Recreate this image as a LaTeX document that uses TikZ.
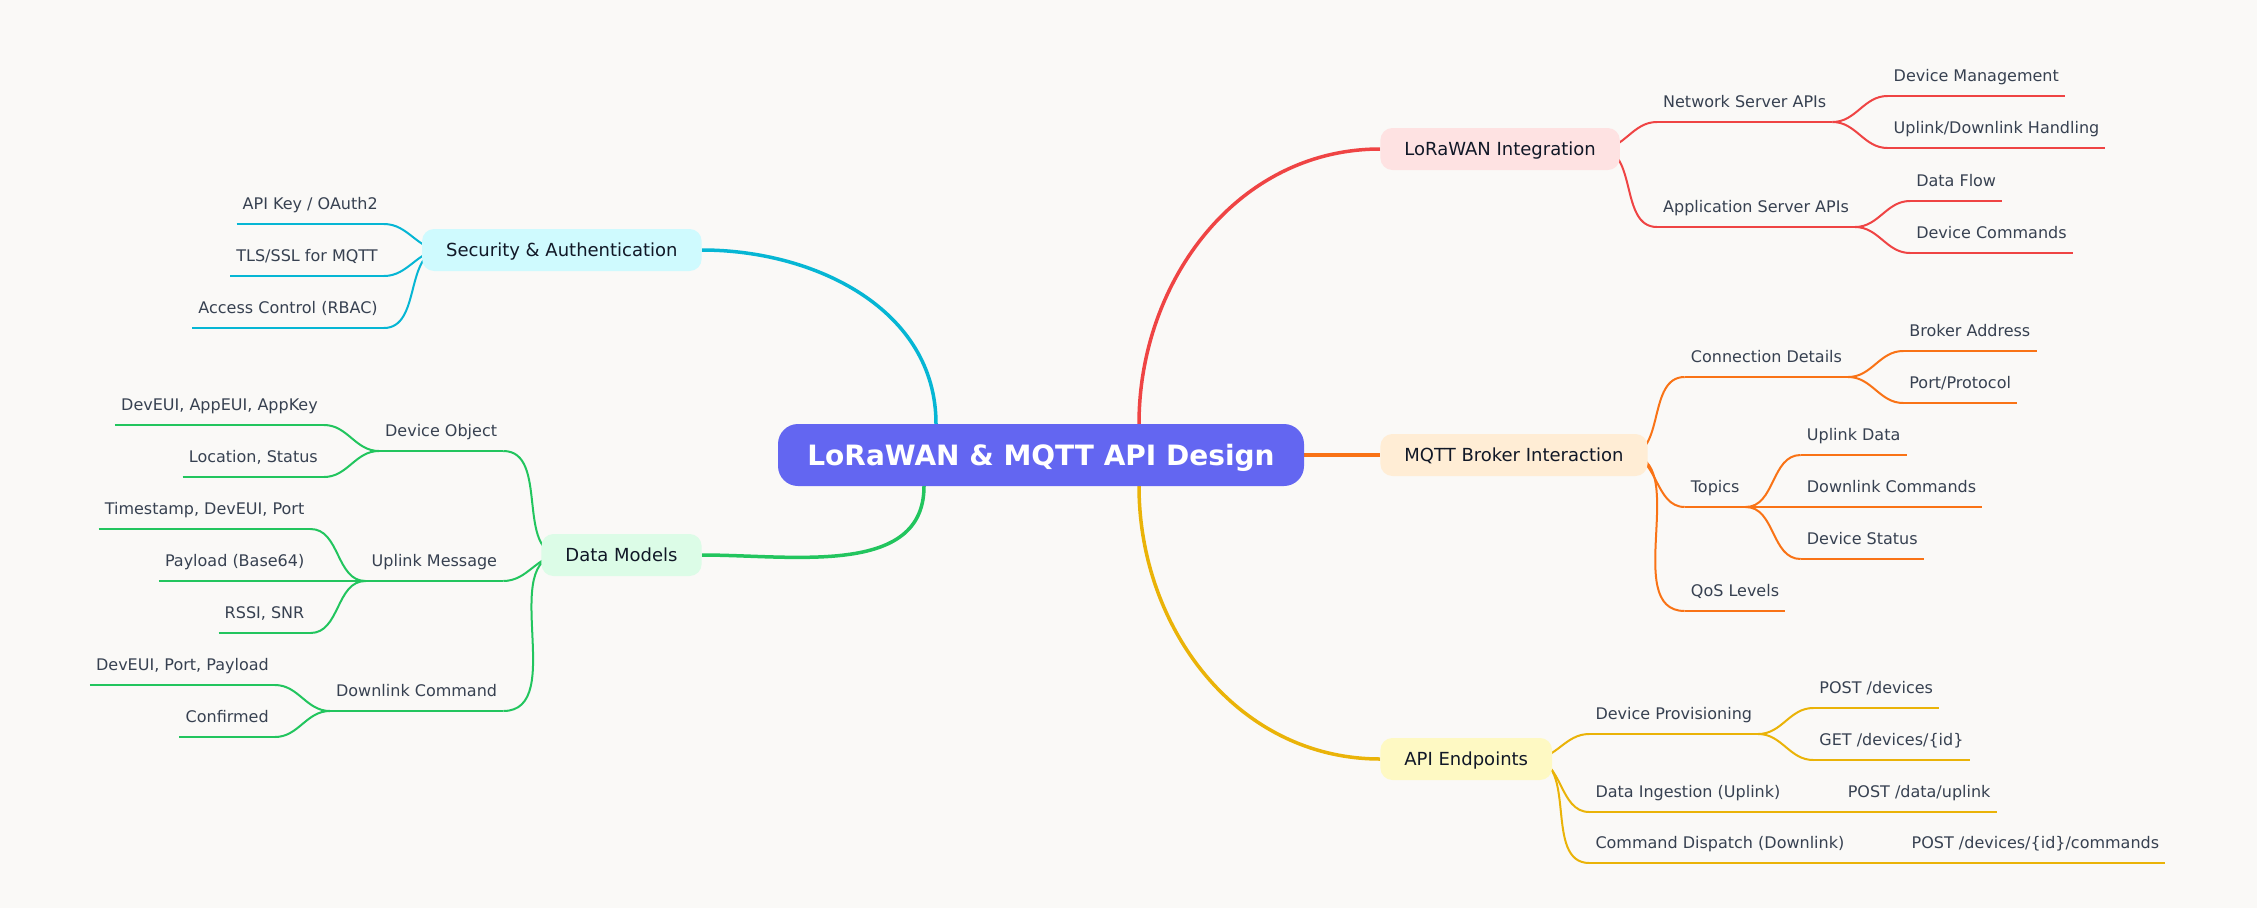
\documentclass[tikz,border=0pt]{standalone}
\usepackage{fontspec}
\setmainfont{DejaVu Sans}
\usetikzlibrary{positioning, backgrounds}
\definecolor{mapbackground}{HTML}{FAF9F7}
\definecolor{rootfill}{HTML}{6366F1}
\definecolor{loraline}{HTML}{EF4444}
\definecolor{lorafill}{HTML}{FEE2E2}
\definecolor{mqttline}{HTML}{F97316}
\definecolor{mqttfill}{HTML}{FFEDD5}
\definecolor{apiline}{HTML}{EAB308}
\definecolor{apifill}{HTML}{FEF9C3}
\definecolor{secline}{HTML}{06B6D4}
\definecolor{secfill}{HTML}{CFFAFE}
\definecolor{dataline}{HTML}{22C55E}
\definecolor{datafill}{HTML}{DCFCE7}
\definecolor{branchtext}{HTML}{111827}
\definecolor{topictext}{HTML}{374151}

\begin{document}
\begin{tikzpicture}[
    x=1pt, y=1pt,
    rootnode/.style={
        fill=rootfill,
        rounded corners=20pt,
        minimum width=526pt,
        minimum height=62pt,
        text height=20pt,
        text depth=0pt,
        text=white,
        font=\fontsize{28}{34}\selectfont\bfseries
    },
    branchnode/.style={
        rounded corners=12pt,
        minimum height=42pt,
        inner xsep=24pt,
        text height=13pt,
        text depth=0pt,
        text=branchtext,
        font=\fontsize{18}{22}\selectfont
    },
    topic/.style={
        inner xsep=6pt,
        inner ysep=0pt,
        text height=12pt,
        text depth=14.5pt,
        text=topictext,
        font=\fontsize{16}{19}\selectfont
    },
    mainlink/.style={line width=3.5pt},
    sublink/.style={line width=2pt},
    rightlink/.style={sublink, out=0, in=180},
    leftlink/.style={sublink, out=180, in=0}
]
    \useasboundingbox (0,0) rectangle (2257,-908);

    \node[rootnode] (root) at (1041,-455) {LoRaWAN \& MQTT API Design};

    \node[branchnode, fill=lorafill, right=76pt of root, yshift=306pt] (lora) {LoRaWAN Integration};
    \node[branchnode, fill=mqttfill, right=76pt of root] (mqtt) {MQTT Broker Interaction};
    \node[branchnode, fill=apifill, right=76pt of root, yshift=-304pt] (api) {API Endpoints};
    \node[branchnode, fill=secfill, left=76pt of root, yshift=205pt] (sec) {Security \& Authentication};
    \node[branchnode, fill=datafill, left=76pt of root, yshift=-100pt] (data) {Data Models};

    % LoRaWAN
    \node[topic, right=37pt of lora.east, anchor=south west, yshift=27pt] (netapi) {Network Server APIs};
    \node[topic, right=37pt of lora.east, anchor=south west, yshift=-78pt] (appapi) {Application Server APIs};
    \node[topic, right=55pt of netapi.south east, anchor=south west, yshift=26pt] (devmgmt) {Device Management};
    \node[topic, right=55pt of netapi.south east, anchor=south west, yshift=-26pt] (updown) {Uplink/Downlink Handling};
    \node[topic, right=55pt of appapi.south east, anchor=south west, yshift=26pt] (dataflow) {Data Flow};
    \node[topic, right=55pt of appapi.south east, anchor=south west, yshift=-26pt] (devcmd) {Device Commands};

    % MQTT
    \node[topic, right=37pt of mqtt.east, anchor=south west, yshift=78pt] (conn) {Connection Details};
    \node[topic, right=37pt of mqtt.east, anchor=south west, yshift=-52pt] (topics) {Topics};
    \node[topic, right=37pt of mqtt.east, anchor=south west, yshift=-156pt] (qos) {QoS Levels};
    \node[topic, right=55pt of conn.south east, anchor=south west, yshift=26pt] (broker) {Broker Address};
    \node[topic, right=55pt of conn.south east, anchor=south west, yshift=-26pt] (portproto) {Port/Protocol};
    \node[topic, right=55pt of topics.south east, anchor=south west, yshift=52pt] (upldata) {Uplink Data};
    \node[topic, right=55pt of topics.south east, anchor=south west] (dnlcmd) {Downlink Commands};
    \node[topic, right=55pt of topics.south east, anchor=south west, yshift=-52pt] (devstatus) {Device Status};

    % API
    \node[topic, right=37pt of api.east, anchor=south west, yshift=25pt] (provis) {Device Provisioning};
    \node[topic, right=37pt of api.east, anchor=south west, yshift=-53pt] (ingest) {Data Ingestion (Uplink)};
    \node[topic, right=37pt of api.east, anchor=south west, yshift=-104pt] (dispatch) {Command Dispatch (Downlink)};
    \node[topic, right=55pt of provis.south east, anchor=south west, yshift=26pt] (postdev) {POST /devices};
    \node[topic, right=55pt of provis.south east, anchor=south west, yshift=-26pt] (getdev) {GET /devices/\{id\}};
    \node[topic, right=55pt of ingest.south east, anchor=south west] (postuplink) {POST /data/uplink};
    \node[topic, right=55pt of dispatch.south east, anchor=south west] (postcmd) {POST /devices/\{id\}/commands};

    % Security
    \node[topic, left=38pt of sec.west, anchor=south east, yshift=26pt] (apikey) {API Key / OAuth2};
    \node[topic, left=38pt of sec.west, anchor=south east, yshift=-26pt] (tls) {TLS/SSL for MQTT};
    \node[topic, left=38pt of sec.west, anchor=south east, yshift=-78pt] (rbac) {Access Control (RBAC)};

    % Data models
    \node[topic, left=38pt of data.west, anchor=south east, yshift=104pt] (devobj) {Device Object};
    \node[topic, left=38pt of data.west, anchor=south east, yshift=-26pt] (uplmsg) {Uplink Message};
    \node[topic, left=38pt of data.west, anchor=south east, yshift=-156pt] (dnlmsg) {Downlink Command};
    \node[topic, left=55pt of devobj.south west, anchor=south east, yshift=26pt] (devkeys) {DevEUI, AppEUI, AppKey};
    \node[topic, left=55pt of devobj.south west, anchor=south east, yshift=-26pt] (locstat) {Location, Status};
    \node[topic, left=55pt of uplmsg.south west, anchor=south east, yshift=52pt] (tsport) {Timestamp, DevEUI, Port};
    \node[topic, left=55pt of uplmsg.south west, anchor=south east] (payload) {Payload (Base64)};
    \node[topic, left=55pt of uplmsg.south west, anchor=south east, yshift=-52pt] (rssi) {RSSI, SNR};
    \node[topic, left=55pt of dnlmsg.south west, anchor=south east, yshift=26pt] (dnlfields) {DevEUI, Port, Payload};
    \node[topic, left=55pt of dnlmsg.south west, anchor=south east, yshift=-26pt] (confirmed) {Confirmed};

    % underlines
    \foreach \t in {netapi, appapi, devmgmt, updown, dataflow, devcmd}
        \draw[sublink, loraline] (\t.south west) -- (\t.south east);
    \foreach \t in {conn, topics, qos, broker, portproto, upldata, dnlcmd, devstatus}
        \draw[sublink, mqttline] (\t.south west) -- (\t.south east);
    \foreach \t in {provis, ingest, dispatch, postdev, getdev, postuplink, postcmd}
        \draw[sublink, apiline] (\t.south west) -- (\t.south east);
    \foreach \t in {apikey, tls, rbac}
        \draw[sublink, secline] (\t.south west) -- (\t.south east);
    \foreach \t in {devobj, uplmsg, dnlmsg, devkeys, locstat, tsport, payload, rssi, dnlfields, confirmed}
        \draw[sublink, dataline] (\t.south west) -- (\t.south east);

    \begin{scope}[on background layer]
        \fill[mapbackground] (0,0) rectangle (2257,-908);

        \draw[mainlink, loraline] ([xshift=98pt]root.north) to[out=90, in=180] (lora.west);
        \draw[mainlink, mqttline] (root.east) -- (mqtt.west);
        \draw[mainlink, apiline] ([xshift=98pt]root.south) to[out=-90, in=180] (api.west);
        \draw[mainlink, secline] ([xshift=-105pt]root.north) to[out=90, in=0] (sec.east);
        \draw[mainlink, dataline] ([xshift=-117pt]root.south) to[out=-90, in=0] (data.east);

        \foreach \t in {netapi, appapi}
            \draw[rightlink, loraline] ([xshift=-20pt]lora.east) to (\t.south west);
        \foreach \t in {devmgmt, updown}
            \draw[rightlink, loraline] (netapi.south east) to (\t.south west);
        \foreach \t in {dataflow, devcmd}
            \draw[rightlink, loraline] (appapi.south east) to (\t.south west);

        \foreach \t in {conn, topics, qos}
            \draw[rightlink, mqttline] ([xshift=-20pt]mqtt.east) to (\t.south west);
        \foreach \t in {broker, portproto}
            \draw[rightlink, mqttline] (conn.south east) to (\t.south west);
        \foreach \t in {upldata, dnlcmd, devstatus}
            \draw[rightlink, mqttline] (topics.south east) to (\t.south west);

        \foreach \t in {provis, ingest, dispatch}
            \draw[rightlink, apiline] ([xshift=-20pt]api.east) to (\t.south west);
        \foreach \t in {postdev, getdev}
            \draw[rightlink, apiline] (provis.south east) to (\t.south west);
        \draw[rightlink, apiline] (ingest.south east) to (postuplink.south west);
        \draw[rightlink, apiline] (dispatch.south east) to (postcmd.south west);

        \foreach \t in {apikey, tls, rbac}
            \draw[leftlink, secline] ([xshift=20pt]sec.west) to (\t.south east);

        \foreach \t in {devobj, uplmsg, dnlmsg}
            \draw[leftlink, dataline] ([xshift=20pt]data.west) to (\t.south east);
        \foreach \t in {devkeys, locstat}
            \draw[leftlink, dataline] (devobj.south west) to (\t.south east);
        \foreach \t in {tsport, payload, rssi}
            \draw[leftlink, dataline] (uplmsg.south west) to (\t.south east);
        \foreach \t in {dnlfields, confirmed}
            \draw[leftlink, dataline] (dnlmsg.south west) to (\t.south east);
    \end{scope}
\end{tikzpicture}
\end{document}
